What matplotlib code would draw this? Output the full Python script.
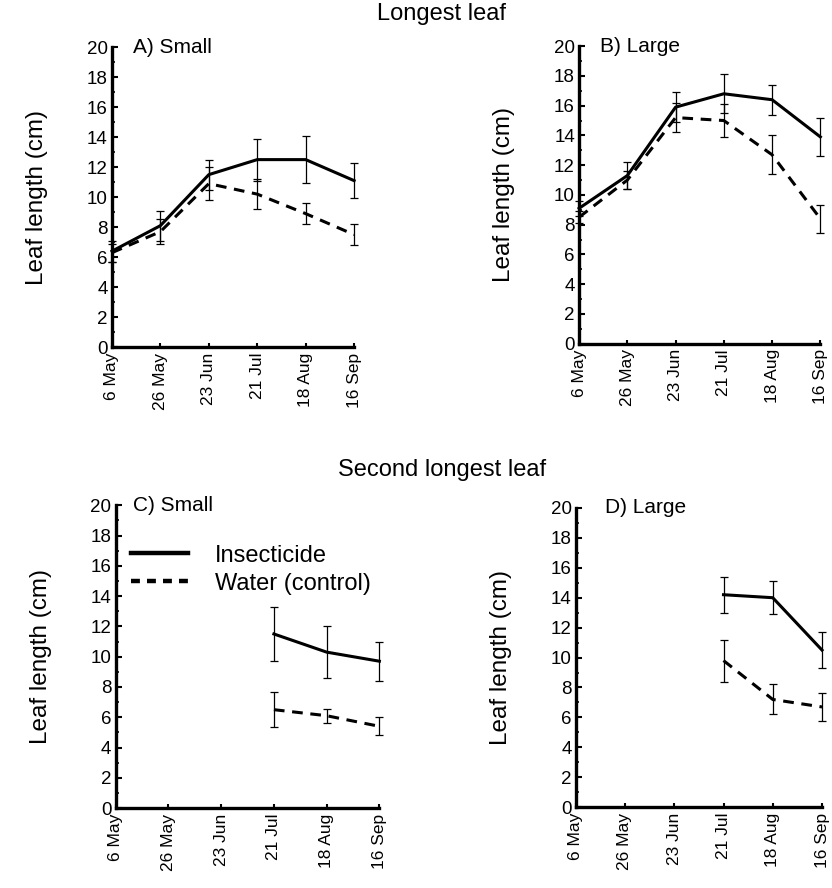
import matplotlib
matplotlib.use("Agg")
from matplotlib import pyplot as plt
from matplotlib.lines import Line2D
from matplotlib.ticker import MultipleLocator

plt.rcParams['font.family'] = ['Liberation Sans', 'DejaVu Sans']

dates = ["6 May", "26 May", "23 Jun", "21 Jul", "18 Aug", "16 Sep"]

# longest leaf, small plants
a_ins = [6.4, 8.1, 11.5, 12.5, 12.5, 11.1]
a_ins_err = [0.7, 1.0, 1.0, 1.4, 1.55, 1.15]
a_wat = [6.3, 7.7, 10.9, 10.2, 8.9, 7.5]
a_wat_err = [0.6, 0.85, 1.1, 1.0, 0.7, 0.7]

# longest leaf, large plants
b_ins = [9.1, 11.3, 15.9, 16.8, 16.4, 13.9]
b_ins_err = [0.5, 0.9, 1.0, 1.3, 1.0, 1.3]
b_wat = [8.5, 11.0, 15.2, 15.0, 12.7, 8.4]
b_wat_err = [0.4, 0.6, 1.0, 1.1, 1.3, 0.95]

# second longest leaf (measured from 21 Jul only)
c_ins = [11.5, 10.3, 9.7]
c_ins_err = [1.8, 1.7, 1.3]
c_wat = [6.5, 6.1, 5.4]
c_wat_err = [1.15, 0.45, 0.6]

d_ins = [14.2, 14.0, 10.5]
d_ins_err = [1.2, 1.1, 1.2]
d_wat = [9.8, 7.2, 6.7]
d_wat_err = [1.4, 1.0, 0.95]

DASH = (0, (3.5, 2.5))

fig = plt.figure(figsize=(8.32, 8.88), dpi=100)

axA = fig.add_axes([0.1346, 0.609, 0.291, 0.338])
axB = fig.add_axes([0.696, 0.613, 0.290, 0.335])
axC = fig.add_axes([0.139, 0.090, 0.317, 0.341])
axD = fig.add_axes([0.692, 0.091, 0.296, 0.337])


def draw(ax, x, ins, ins_err, wat, wat_err, title, tx):
    ax.errorbar(x, ins, yerr=ins_err, color="black", lw=2.2, ls="-",
                elinewidth=0.9, capsize=3, capthick=0.9, clip_on=False)
    ax.errorbar(x, wat, yerr=wat_err, color="black", lw=2.2, ls=DASH,
                elinewidth=0.9, capsize=3, capthick=0.9, clip_on=False)
    ax.set_xlim(0, 5)
    ax.set_ylim(0, 20)
    ax.set_xticks(range(len(dates)))
    ax.set_xticklabels(dates, rotation=90, fontsize=12.5)
    ax.yaxis.set_major_locator(MultipleLocator(2))
    ax.yaxis.set_minor_locator(MultipleLocator(1))
    ax.tick_params(axis="y", direction="in", length=4, width=1.5, labelsize=13.5, pad=3)
    ax.tick_params(axis="y", which="minor", direction="in", length=2, width=1.2)
    ax.tick_params(axis="x", direction="in", length=3, width=1.5, pad=4)
    for s in ["top", "right"]:
        ax.spines[s].set_visible(False)
    for s in ["left", "bottom"]:
        ax.spines[s].set_linewidth(2.4)
    ax.text(tx, 1.0, title, transform=ax.transAxes, fontsize=15, va="center", ha="left")
    ax.set_ylabel("Leaf length (cm)", fontsize=17.5, labelpad=28)


draw(axA, range(6), a_ins, a_ins_err, a_wat, a_wat_err, "A) Small", 0.087)
draw(axB, range(6), b_ins, b_ins_err, b_wat, b_wat_err, "B) Large", 0.087)
draw(axC, range(3, 6), c_ins, c_ins_err, c_wat, c_wat_err, "C) Small", 0.064)
draw(axD, range(3, 6), d_ins, d_ins_err, d_wat, d_wat_err, "D) Large", 0.118)

handles = [Line2D([], [], color="black", lw=3.2, ls="-"),
           Line2D([], [], color="black", lw=3.2, ls=(0, (2.0, 1.6)))]
axC.legend(handles, ["Insecticide", "Water (control)"],
           loc="upper left", bbox_to_anchor=(0.06, 0.87), frameon=False,
           borderaxespad=0, borderpad=0,
           fontsize=17, handlelength=2.4, handletextpad=1.15, labelspacing=0.25)

fig.text(0.531, 0.984, "Longest leaf", fontsize=17, ha="center", va="center")
fig.text(0.531, 0.471, "Second longest leaf", fontsize=17, ha="center", va="center")

fig.savefig("out.png", dpi=100)
